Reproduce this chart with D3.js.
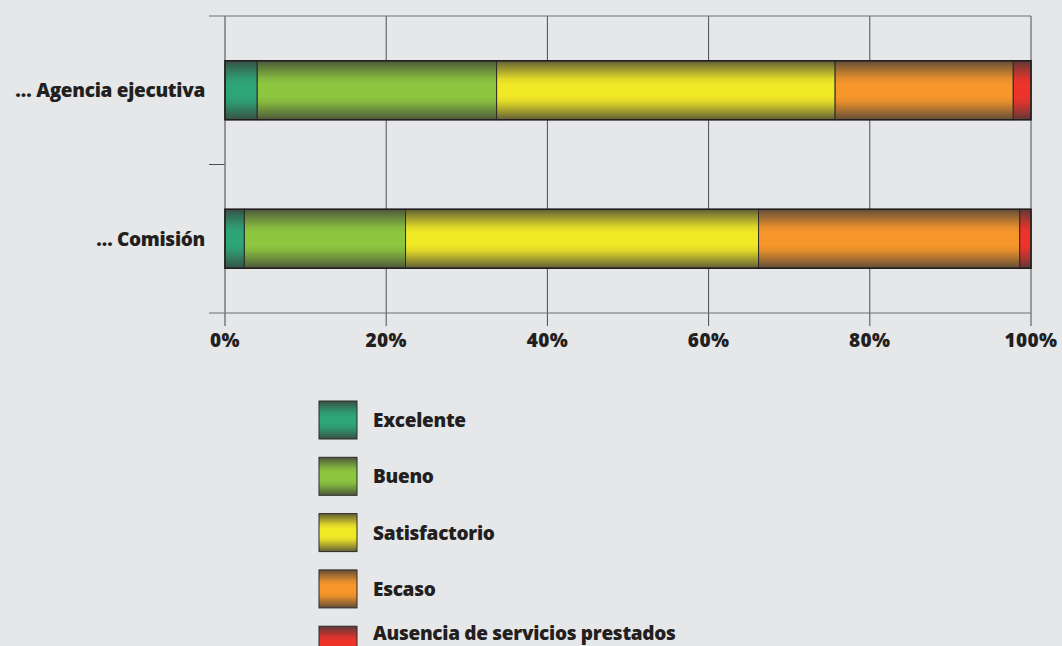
<!DOCTYPE html>
<html>
<head>
<meta charset="utf-8">
<script src="https://cdn.jsdelivr.net/npm/d3@7/dist/d3.min.js"></script>
<style>
  html, body { margin: 0; padding: 0; background: #e6e7e9; }
  svg { display: block; }
  text { font-family: "Open Sans", "Noto Sans", sans-serif; font-weight: 800; fill: #231f20; }
</style>
</head>
<body>
<svg id="chart" width="1062" height="646"></svg>
<script>
// Evaluation categories (top to bottom)
const categories = ["… Agencia ejecutiva", "… Comisión"];
// Rating levels, in stacking order
const levels = ["Excelente", "Bueno", "Satisfactorio", "Escaso", "Ausencia de servicios prestados"];
const levelColors = ["#2ea577", "#8dc63f", "#f1e826", "#f7962a", "#ee332b"];
// Share of answers per level (%)
const agenciaValues = [4.0, 29.7, 42.0, 22.1, 2.2];
const comisionValues = [2.4, 20.0, 43.8, 32.4, 1.4];
const tickValues = [0, 20, 40, 60, 80, 100];

const seriesByCategory = [agenciaValues, comisionValues];

const svg = d3.select("#chart");
const W = 1062, H = 646;
const margin = { left: 225, right: 31, top: 16 };
const x = d3.scaleLinear().domain([0, 100]).range([margin.left, W - margin.right]);
const y = d3.scaleBand().domain(categories).range([margin.top, 313]).padding(0);
const barH = 59;

// Gradients: colour in the middle, darkened towards top and bottom edges
const defs = svg.append("defs");
const dark = "#3a3a3a";
levelColors.forEach((c, i) => {
  const g = defs.append("linearGradient").attr("id", "grad" + i)
    .attr("x1", 0).attr("y1", 0).attr("x2", 0).attr("y2", 1);
  const mix = d3.interpolateRgb(c, dark);
  [[0, 0.8], [0.1, 0.55], [0.3, 0.1], [0.4, 0], [0.6, 0], [0.7, 0.1], [0.9, 0.55], [1, 0.8]]
    .forEach(([o, t]) => g.append("stop").attr("offset", o).attr("stop-color", mix(t)));
});

// Grid lines at each tick
const gridCol = "#4d4d4f";
svg.append("g").selectAll("line").data(tickValues.slice(1)).join("line")
  .attr("x1", d => x(d)).attr("x2", d => x(d))
  .attr("y1", margin.top).attr("y2", 326)
  .attr("stroke", gridCol).attr("stroke-width", 1);

// Top and bottom frame lines
[margin.top, 313].forEach(yy => {
  svg.append("line").attr("x1", 209).attr("x2", x(100))
    .attr("y1", yy).attr("y2", yy)
    .attr("stroke", "#6d6e71").attr("stroke-width", 1.2);
});

// Tick between categories
categories.slice(1).forEach(c => {
  svg.append("line").attr("x1", 209).attr("x2", x(0))
    .attr("y1", y(c)).attr("y2", y(c))
    .attr("stroke", gridCol).attr("stroke-width", 1);
});

// Vertical axis line
svg.append("line").attr("x1", x(0)).attr("x2", x(0))
  .attr("y1", margin.top).attr("y2", 326)
  .attr("stroke", "#77787b").attr("stroke-width", 1.5);

// Stacked bars
categories.forEach((cat, ci) => {
  const vals = seriesByCategory[ci];
  let acc = 0;
  const segs = vals.map((v, i) => { const s = { i, x0: acc, x1: acc + v }; acc += v; return s; });
  const cy = y(cat) + y.bandwidth() / 2;
  const g = svg.append("g");
  g.selectAll("rect").data(segs).join("rect")
    .attr("x", d => x(d.x0)).attr("width", d => x(d.x1) - x(d.x0))
    .attr("y", cy - barH / 2).attr("height", barH)
    .attr("fill", d => `url(#grad${d.i})`)
    .attr("stroke", "#2b2b2b").attr("stroke-width", 1);
  g.append("rect")
    .attr("x", x(0)).attr("width", x(acc) - x(0))
    .attr("y", cy - barH / 2).attr("height", barH)
    .attr("fill", "none").attr("stroke", "#231f20").attr("stroke-width", 1.5);
  svg.append("text").attr("x", 205).attr("y", cy)
    .attr("text-anchor", "end").attr("dominant-baseline", "central")
    .attr("font-size", 19).attr("letter-spacing", -0.3).text(cat);
});

// X tick labels
svg.append("g").selectAll("text").data(tickValues).join("text")
  .attr("x", d => x(d)).attr("y", 340)
  .attr("text-anchor", "middle").attr("dominant-baseline", "central")
  .attr("font-size", 19).attr("letter-spacing", 0.4)
  .text(d => d + "%");

// Legend
const lg = svg.append("g");
levels.forEach((lv, i) => {
  const top = 401 + i * 56.3;
  lg.append("rect").attr("x", 319).attr("y", top).attr("width", 38).attr("height", 38)
    .attr("fill", `url(#grad${i})`).attr("stroke", "#2b2b2b").attr("stroke-width", 1);
  lg.append("text").attr("x", 373).attr("y", Math.min(top + 19, H - 13))
    .attr("dominant-baseline", "central").attr("font-size", 19)
    .attr("letter-spacing", -0.3).text(lv);
});
</script>
</body>
</html>
